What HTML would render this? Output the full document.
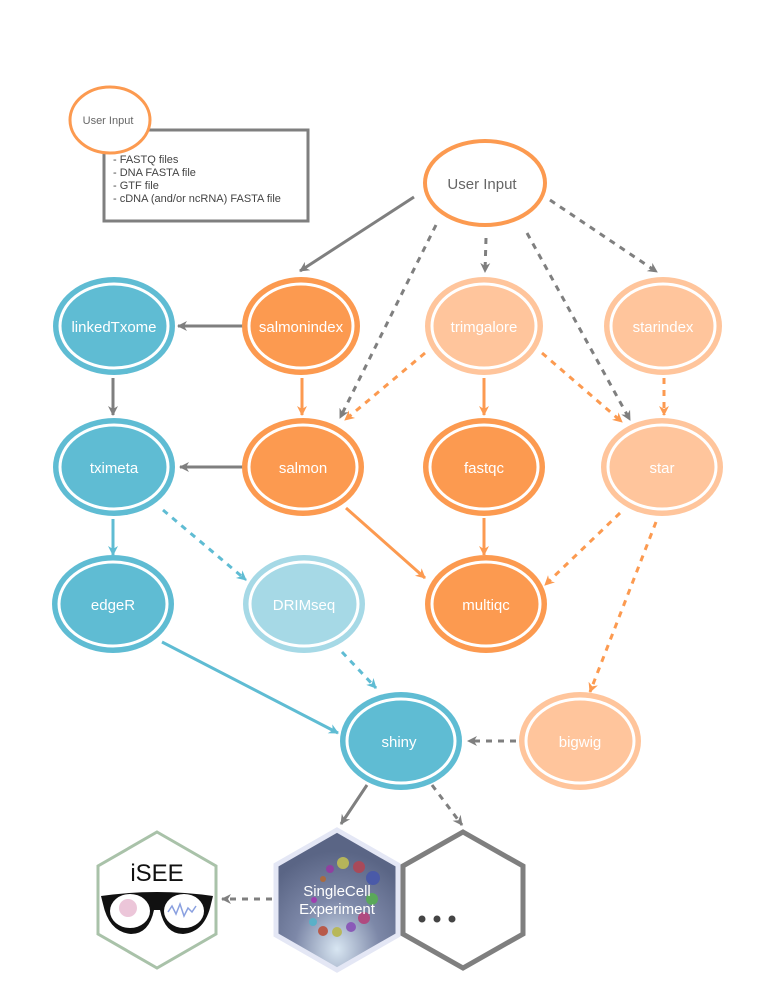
<!DOCTYPE html>
<html><head><meta charset="utf-8"><style>
html,body{margin:0;padding:0;background:#fff;}
svg{display:block;}
text{font-family:"Liberation Sans",sans-serif;}
</style></head><body>
<svg width="777" height="1007" viewBox="0 0 777 1007">
<defs>
<marker id="mg" markerWidth="12" markerHeight="12" refX="9" refY="6" orient="auto" markerUnits="userSpaceOnUse"><path d="M0,1 L10,6 L0,11 L3,6 Z" fill="#7f7f7f"/></marker>
<marker id="mo" markerWidth="12" markerHeight="12" refX="9" refY="6" orient="auto" markerUnits="userSpaceOnUse"><path d="M0,1 L10,6 L0,11 L3,6 Z" fill="#FC9A50"/></marker>
<marker id="mb" markerWidth="12" markerHeight="12" refX="9" refY="6" orient="auto" markerUnits="userSpaceOnUse"><path d="M0,1 L10,6 L0,11 L3,6 Z" fill="#5FBCD3"/></marker>
<radialGradient id="sceg" cx="0.5" cy="0.85" r="0.7"><stop offset="0" stop-color="#d8e6f2"/><stop offset="0.5" stop-color="#7d88a8"/><stop offset="1" stop-color="#5a6585"/></radialGradient>
</defs>

<!-- legend -->
<g>
<rect x="104" y="130" width="204" height="91" fill="#fff" stroke="#7f7f7f" stroke-width="3"/>
<ellipse cx="110" cy="120" rx="40" ry="33" fill="#fff" stroke="#FC9A50" stroke-width="3"/>
<text x="108" y="124" font-size="11" fill="#666" text-anchor="middle">User Input</text>
<text font-size="11" fill="#444"><tspan x="113" y="163">-  FASTQ files</tspan><tspan x="113" y="176">- DNA FASTA file</tspan><tspan x="113" y="189">- GTF  file</tspan><tspan x="113" y="202">- cDNA (and/or ncRNA) FASTA file</tspan></text>
</g>

<!-- edges -->
<g stroke-width="3" fill="none">
<line x1="414" y1="197" x2="300" y2="271" stroke="#7f7f7f" marker-end="url(#mg)"/>
<line x1="436" y1="225" x2="340" y2="418" stroke="#7f7f7f" stroke-dasharray="6,6" marker-end="url(#mg)"/>
<line x1="486" y1="238" x2="485" y2="272" stroke="#7f7f7f" stroke-dasharray="6,6" marker-end="url(#mg)"/>
<line x1="527" y1="233" x2="630" y2="420" stroke="#7f7f7f" stroke-dasharray="6,6" marker-end="url(#mg)"/>
<line x1="550" y1="200" x2="657" y2="272" stroke="#7f7f7f" stroke-dasharray="6,6" marker-end="url(#mg)"/>
<line x1="243" y1="326" x2="178" y2="326" stroke="#7f7f7f" marker-end="url(#mg)"/>
<line x1="113" y1="378" x2="113" y2="415" stroke="#7f7f7f" marker-end="url(#mg)"/>
<line x1="302" y1="378" x2="302" y2="415" stroke="#FC9A50" marker-end="url(#mo)"/>
<line x1="425" y1="353" x2="345" y2="420" stroke="#FC9A50" stroke-dasharray="6,6" marker-end="url(#mo)"/>
<line x1="484" y1="378" x2="484" y2="415" stroke="#FC9A50" marker-end="url(#mo)"/>
<line x1="542" y1="353" x2="622" y2="422" stroke="#FC9A50" stroke-dasharray="6,6" marker-end="url(#mo)"/>
<line x1="664" y1="378" x2="664" y2="415" stroke="#FC9A50" stroke-dasharray="6,6" marker-end="url(#mo)"/>
<line x1="243" y1="467" x2="180" y2="467" stroke="#7f7f7f" marker-end="url(#mg)"/>
<line x1="346" y1="508" x2="425" y2="578" stroke="#FC9A50" marker-end="url(#mo)"/>
<line x1="484" y1="518" x2="484" y2="555" stroke="#FC9A50" marker-end="url(#mo)"/>
<line x1="620" y1="513" x2="545" y2="585" stroke="#FC9A50" stroke-dasharray="6,6" marker-end="url(#mo)"/>
<line x1="656" y1="522" x2="590" y2="692" stroke="#FC9A50" stroke-dasharray="6,6" marker-end="url(#mo)"/>
<line x1="113" y1="519" x2="113" y2="555" stroke="#5FBCD3" marker-end="url(#mb)"/>
<line x1="163" y1="510" x2="246" y2="580" stroke="#5FBCD3" stroke-dasharray="6,6" marker-end="url(#mb)"/>
<line x1="162" y1="642" x2="338" y2="733" stroke="#5FBCD3" marker-end="url(#mb)"/>
<line x1="342" y1="652" x2="376" y2="688" stroke="#5FBCD3" stroke-dasharray="6,6" marker-end="url(#mb)"/>
<line x1="516" y1="741" x2="468" y2="741" stroke="#7f7f7f" stroke-dasharray="6,6" marker-end="url(#mg)"/>
<line x1="367" y1="785" x2="341" y2="824" stroke="#7f7f7f" marker-end="url(#mg)"/>
<line x1="432" y1="785" x2="462" y2="825" stroke="#7f7f7f" stroke-dasharray="6,6" marker-end="url(#mg)"/>
<line x1="272" y1="899" x2="222" y2="899" stroke="#7f7f7f" stroke-dasharray="6,6" marker-end="url(#mg)"/>
</g>

<!-- user input -->
<g>
<ellipse cx="485" cy="183" rx="60" ry="42" fill="#fff" stroke="#FC9A50" stroke-width="4"/>
<text x="482" y="189" font-size="15" fill="#666" text-anchor="middle">User Input</text>
</g>

<!-- nodes -->
<g><ellipse cx="301" cy="326" rx="59" ry="49" fill="#FC9A50"/><ellipse cx="301" cy="326" rx="52" ry="42" fill="#FC9A50" stroke="#fff" stroke-width="3"/><text x="301" y="332" font-size="15" fill="#fff" text-anchor="middle">salmonindex</text></g>
<g><ellipse cx="484" cy="326" rx="59" ry="49" fill="#FFC59C"/><ellipse cx="484" cy="326" rx="52" ry="42" fill="#FFC59C" stroke="#fff" stroke-width="3"/><text x="484" y="332" font-size="15" fill="#fff" text-anchor="middle">trimgalore</text></g>
<g><ellipse cx="663" cy="326" rx="59" ry="49" fill="#FFC59C"/><ellipse cx="663" cy="326" rx="52" ry="42" fill="#FFC59C" stroke="#fff" stroke-width="3"/><text x="663" y="332" font-size="15" fill="#fff" text-anchor="middle">starindex</text></g>
<g><ellipse cx="114" cy="326" rx="61" ry="49" fill="#5FBCD3"/><ellipse cx="114" cy="326" rx="54" ry="42" fill="#5FBCD3" stroke="#fff" stroke-width="3"/><text x="114" y="332" font-size="15" fill="#fff" text-anchor="middle">linkedTxome</text></g>
<g><ellipse cx="114" cy="467" rx="61" ry="49" fill="#5FBCD3"/><ellipse cx="114" cy="467" rx="54" ry="42" fill="#5FBCD3" stroke="#fff" stroke-width="3"/><text x="114" y="473" font-size="15" fill="#fff" text-anchor="middle">tximeta</text></g>
<g><ellipse cx="303" cy="467" rx="61" ry="49" fill="#FC9A50"/><ellipse cx="303" cy="467" rx="54" ry="42" fill="#FC9A50" stroke="#fff" stroke-width="3"/><text x="303" y="473" font-size="15" fill="#fff" text-anchor="middle">salmon</text></g>
<g><ellipse cx="484" cy="467" rx="61" ry="49" fill="#FC9A50"/><ellipse cx="484" cy="467" rx="54" ry="42" fill="#FC9A50" stroke="#fff" stroke-width="3"/><text x="484" y="473" font-size="15" fill="#fff" text-anchor="middle">fastqc</text></g>
<g><ellipse cx="662" cy="467" rx="61" ry="49" fill="#FFC59C"/><ellipse cx="662" cy="467" rx="54" ry="42" fill="#FFC59C" stroke="#fff" stroke-width="3"/><text x="662" y="473" font-size="15" fill="#fff" text-anchor="middle">star</text></g>
<g><ellipse cx="113" cy="604" rx="61" ry="49" fill="#5FBCD3"/><ellipse cx="113" cy="604" rx="54" ry="42" fill="#5FBCD3" stroke="#fff" stroke-width="3"/><text x="113" y="610" font-size="15" fill="#fff" text-anchor="middle">edgeR</text></g>
<g><ellipse cx="304" cy="604" rx="61" ry="49" fill="#A6D9E6"/><ellipse cx="304" cy="604" rx="54" ry="42" fill="#A6D9E6" stroke="#fff" stroke-width="3"/><text x="304" y="610" font-size="15" fill="#fff" text-anchor="middle">DRIMseq</text></g>
<g><ellipse cx="486" cy="604" rx="61" ry="49" fill="#FC9A50"/><ellipse cx="486" cy="604" rx="54" ry="42" fill="#FC9A50" stroke="#fff" stroke-width="3"/><text x="486" y="610" font-size="15" fill="#fff" text-anchor="middle">multiqc</text></g>
<g><ellipse cx="401" cy="741" rx="61" ry="49" fill="#5FBCD3"/><ellipse cx="401" cy="741" rx="54" ry="42" fill="#5FBCD3" stroke="#fff" stroke-width="3"/><text x="399" y="747" font-size="15" fill="#fff" text-anchor="middle">shiny</text></g>
<g><ellipse cx="580" cy="741" rx="61" ry="49" fill="#FFC59C"/><ellipse cx="580" cy="741" rx="54" ry="42" fill="#FFC59C" stroke="#fff" stroke-width="3"/><text x="580" y="747" font-size="15" fill="#fff" text-anchor="middle">bigwig</text></g>

<!-- hexagons -->
<g>
<polygon points="157,832 216,866 216,934 157,968 98,934 98,866" fill="#fff" stroke="#A9C2A9" stroke-width="3"/>
<text x="157" y="881" font-size="24" fill="#111" text-anchor="middle">iSEE</text>
<path d="M101,896 Q157,888 213,896 L211,904 Q205,932 183,934 Q165,934 160,910 L154,910 Q149,934 131,934 Q109,932 103,904 Z" fill="#111"/>
<ellipse cx="130" cy="911" rx="20" ry="17" fill="#fff"/>
<ellipse cx="184" cy="911" rx="20" ry="17" fill="#fff"/>
<circle cx="128" cy="908" r="9" fill="#e0a0c0" opacity="0.6"/>
<path d="M168,912 l4,-6 l4,8 l4,-10 l4,12 l4,-8 l4,4 l4,-6" stroke="#8aa0e0" stroke-width="1.5" fill="none"/>
</g>
<g>
<polygon points="337,830 398,865 398,935 337,970 276,935 276,865" fill="url(#sceg)" stroke="#e4e7f5" stroke-width="5"/>
<circle cx="343" cy="863" r="6" fill="#b5b55a"/><circle cx="359" cy="867" r="6" fill="#a84a5a"/><circle cx="373" cy="878" r="7" fill="#4a5aa8"/><circle cx="372" cy="899" r="6" fill="#5aa85a"/><circle cx="364" cy="918" r="6" fill="#b04a80"/><circle cx="351" cy="927" r="5" fill="#8a5ab8"/><circle cx="337" cy="932" r="5" fill="#b8b85a"/><circle cx="323" cy="931" r="5" fill="#b85a4a"/><circle cx="313" cy="922" r="4" fill="#5ab0c8"/><circle cx="314" cy="900" r="3" fill="#a040b0"/><circle cx="323" cy="879" r="3" fill="#a86a40"/><circle cx="330" cy="869" r="4" fill="#9040a0"/>
<text x="337" y="896" font-size="15" fill="#fff" text-anchor="middle">SingleCell</text>
<text x="337" y="914" font-size="15" fill="#fff" text-anchor="middle">Experiment</text>
</g>
<g>
<polygon points="463,832 523,866 523,934 463,968 403,934 403,866" fill="#fff" stroke="#7f7f7f" stroke-width="5"/>
<circle cx="422" cy="919" r="3.5" fill="#444"/><circle cx="437" cy="919" r="3.5" fill="#444"/><circle cx="452" cy="919" r="3.5" fill="#444"/>
</g>
</svg>
</body></html>
